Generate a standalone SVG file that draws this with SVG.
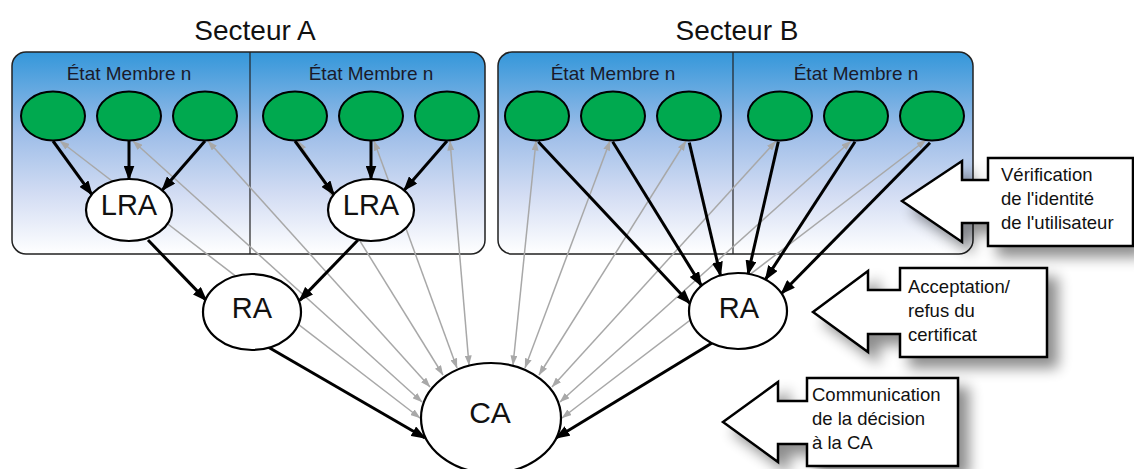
<svg xmlns="http://www.w3.org/2000/svg" width="1134" height="469" viewBox="0 0 1134 469">
<defs>
<linearGradient id="panelGrad" x1="0" y1="0" x2="0" y2="1">
<stop offset="0" stop-color="#3497da"/>
<stop offset="0.4" stop-color="#9dbde8"/>
<stop offset="0.7" stop-color="#d2dcf3"/>
<stop offset="1" stop-color="#ffffff"/>
</linearGradient>
<marker id="blk" markerUnits="userSpaceOnUse" markerWidth="15" markerHeight="11" refX="13.5" refY="5.5" orient="auto">
<path d="M0,0 L15,5.5 L0,11 z" fill="#000"/>
</marker>
<marker id="gry" markerUnits="userSpaceOnUse" markerWidth="10" markerHeight="7" refX="9.5" refY="3.5" orient="auto-start-reverse">
<path d="M0,0 L10,3.5 L0,7 z" fill="#a8a8a8"/>
</marker>
<filter id="shadow" x="-20%" y="-30%" width="150%" height="180%">
<feGaussianBlur in="SourceAlpha" stdDeviation="7"/>
<feOffset dx="10" dy="10" result="b"/>
<feComponentTransfer><feFuncA type="linear" slope="0.45"/></feComponentTransfer>
<feMerge><feMergeNode/><feMergeNode in="SourceGraphic"/></feMerge>
</filter>
</defs>
<style>
.panel{fill:url(#panelGrad);stroke:#222;stroke-width:1.5}
.div{stroke:#222;stroke-width:1.2}
.green{fill:#00a94f;stroke:#000;stroke-width:2}
.white{fill:#fff;stroke:#000;stroke-width:2.2}
.title{font-family:"Liberation Sans",Arial,sans-serif;font-size:28px;fill:#111;text-anchor:middle}
.ms{font-family:"Liberation Sans",Arial,sans-serif;font-size:19px;fill:#1a1a2a;text-anchor:middle}
.big{font-family:"Liberation Sans",Arial,sans-serif;font-size:29px;fill:#111;text-anchor:middle}
.bl{stroke:#000;stroke-width:3;fill:none;marker-end:url(#blk)}
.gr{stroke:#a8a8a8;stroke-width:1.5;fill:none;marker-start:url(#gry);marker-end:url(#gry)}
.callout{fill:#fff;stroke:#000;stroke-width:2.5;stroke-linejoin:miter}
.ct{font-family:"Liberation Sans",Arial,sans-serif;font-size:18.5px;fill:#111}
</style>

<g id="secteurA">
<text class="title" x="255" y="40">Secteur A</text>
<rect class="panel" x="12" y="52" width="473" height="202" rx="14"/>
<line class="div" x1="250" y1="52" x2="250" y2="254"/>
<text class="ms" x="129" y="80">État Membre n</text>
<text class="ms" x="371" y="80">État Membre n</text>
</g>
<g id="secteurB">
<text class="title" x="737" y="40">Secteur B</text>
<rect class="panel" x="498" y="52" width="475" height="202" rx="14"/>
<line class="div" x1="733" y1="52" x2="733" y2="254"/>
<text class="ms" x="613" y="80">État Membre n</text>
<text class="ms" x="856" y="80">État Membre n</text>
</g>

<g id="connectors">
<line class="gr" x1="60" y1="141" x2="420" y2="418"/>
<line class="gr" x1="133" y1="141" x2="422" y2="402"/>
<line class="gr" x1="208" y1="141" x2="430" y2="387"/>
<line class="gr" x1="298" y1="141" x2="443" y2="375"/>
<line class="gr" x1="374" y1="141" x2="457" y2="368"/>
<line class="gr" x1="450" y1="141" x2="469" y2="365"/>
<line class="gr" x1="536" y1="141" x2="513" y2="365"/>
<line class="gr" x1="610" y1="141" x2="525" y2="368"/>
<line class="gr" x1="686" y1="141" x2="539" y2="375"/>
<line class="gr" x1="776" y1="141" x2="552" y2="387"/>
<line class="gr" x1="851" y1="141" x2="560" y2="402"/>
<line class="gr" x1="926" y1="140" x2="562" y2="418"/>

<line class="bl" x1="53" y1="141" x2="91.9" y2="194.6"/>
<line class="bl" x1="129" y1="141" x2="129" y2="179"/>
<line class="bl" x1="205" y1="141" x2="162.2" y2="190.2"/>
<line class="bl" x1="295" y1="141" x2="333.9" y2="194.6"/>
<line class="bl" x1="371" y1="141" x2="371" y2="179"/>
<line class="bl" x1="447" y1="141" x2="404.2" y2="190.2"/>
<line class="bl" x1="148" y1="240" x2="206.3" y2="300.4"/>
<line class="bl" x1="358" y1="240" x2="299.7" y2="300.4"/>
<line class="bl" x1="268" y1="347" x2="425" y2="438"/>
<line class="bl" x1="712" y1="343" x2="556" y2="438"/>
<line class="bl" x1="538.3" y1="141.7" x2="690" y2="303.5"/>
<line class="bl" x1="612.7" y1="141.7" x2="701.4" y2="285.6"/>
<line class="bl" x1="689.3" y1="142.7" x2="720.5" y2="275.5"/>
<line class="bl" x1="778.3" y1="141.7" x2="748" y2="274"/>
<line class="bl" x1="855" y1="141.7" x2="765.5" y2="279.4"/>
<line class="bl" x1="930" y1="142.7" x2="781.5" y2="293.5"/>
</g>

<g id="user-a1"><ellipse class="green" cx="53" cy="116" rx="32" ry="24.5"/></g>
<g id="user-a2"><ellipse class="green" cx="129" cy="116" rx="32" ry="24.5"/></g>
<g id="user-a3"><ellipse class="green" cx="205" cy="116" rx="32" ry="24.5"/></g>
<g id="user-a4"><ellipse class="green" cx="295" cy="116" rx="32" ry="24.5"/></g>
<g id="user-a5"><ellipse class="green" cx="371" cy="116" rx="32" ry="24.5"/></g>
<g id="user-a6"><ellipse class="green" cx="447" cy="116" rx="32" ry="24.5"/></g>
<g id="user-b1"><ellipse class="green" cx="537" cy="116" rx="32" ry="24.5"/></g>
<g id="user-b2"><ellipse class="green" cx="613" cy="116" rx="32" ry="24.5"/></g>
<g id="user-b3"><ellipse class="green" cx="689" cy="116" rx="32" ry="24.5"/></g>
<g id="user-b4"><ellipse class="green" cx="780" cy="116" rx="32" ry="24.5"/></g>
<g id="user-b5"><ellipse class="green" cx="856" cy="116" rx="32" ry="24.5"/></g>
<g id="user-b6"><ellipse class="green" cx="932" cy="116" rx="32" ry="24.5"/></g>

<g id="lra1"><ellipse class="white" cx="129" cy="210" rx="43" ry="31"/><text class="big" x="129" y="215">LRA</text></g>
<g id="lra2"><ellipse class="white" cx="371" cy="210" rx="43" ry="31"/><text class="big" x="371" y="215">LRA</text></g>
<g id="ra-a"><ellipse class="white" cx="252" cy="312" rx="49" ry="38"/><text class="big" x="252" y="318">RA</text></g>
<g id="ra-b"><ellipse class="white" cx="738" cy="311" rx="49" ry="38"/><text class="big" x="739" y="318">RA</text></g>
<g id="ca"><ellipse class="white" cx="491" cy="418" rx="70" ry="55"/><text class="big" x="490" y="423" style="font-size:30px">CA</text></g>

<g id="callout-verification">
<path class="callout" filter="url(#shadow)" d="M902,201 L962,161 L962,180 L988,180 L988,158 L1133,158 L1133,246 L988,246 L988,223 L962,223 L962,242 Z"/>
<text class="ct" x="1001" y="181">Vérification</text>
<text class="ct" x="1001" y="205">de l'identité</text>
<text class="ct" x="1001" y="229">de l'utilisateur</text>
</g>
<g id="callout-acceptation">
<path class="callout" filter="url(#shadow)" d="M813,312 L868,271 L868,290 L900,290 L900,268 L1047,268 L1047,357 L900,357 L900,334 L868,334 L868,352 Z"/>
<text class="ct" x="908" y="293">Acceptation/</text>
<text class="ct" x="908" y="317">refus du</text>
<text class="ct" x="908" y="341">certificat</text>
</g>
<g id="callout-communication">
<path class="callout" filter="url(#shadow)" d="M723,422 L778,382 L778,401 L807,401 L807,378 L958,378 L958,466 L807,466 L807,444 L778,444 L778,462 Z"/>
<text class="ct" x="812" y="401">Communication</text>
<text class="ct" x="812" y="425">de la décision</text>
<text class="ct" x="812" y="449">à la CA</text>
</g>
</svg>
